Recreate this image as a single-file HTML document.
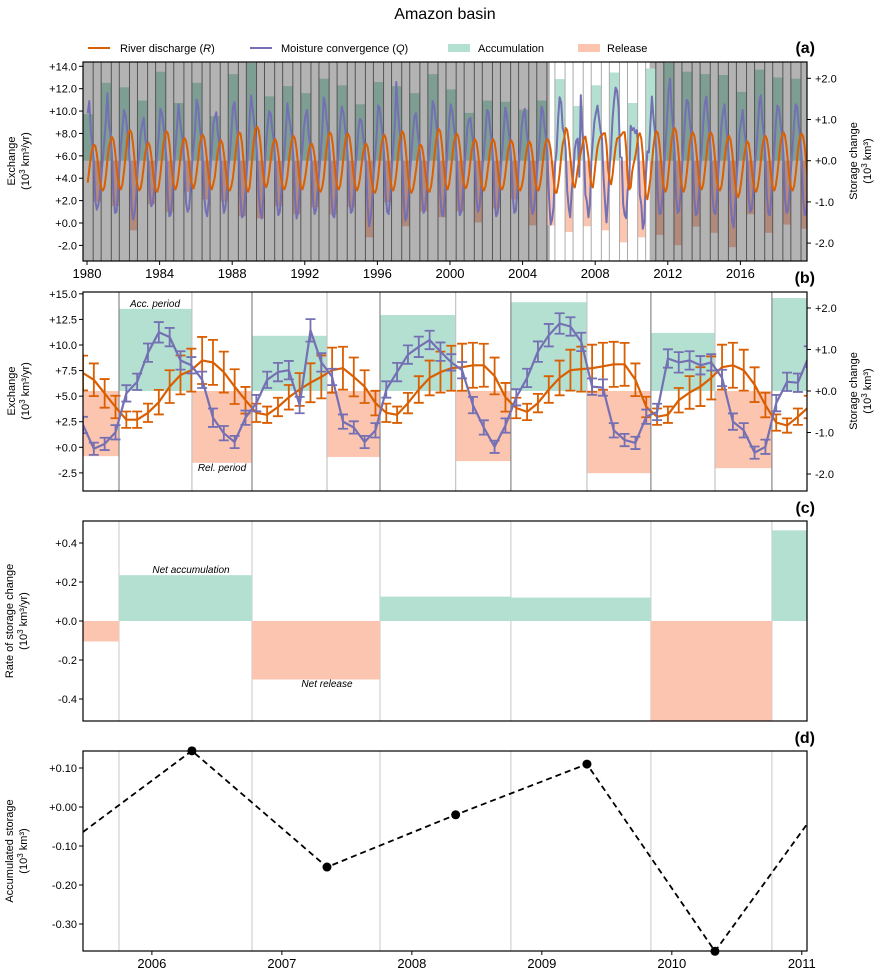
<!DOCTYPE html>
<html><head><meta charset="utf-8"><title>Amazon basin</title>
<style>
body{margin:0;background:#fff;}
svg{display:block;font-family:"Liberation Sans","DejaVu Sans",sans-serif;}
.tk{font-size:11px;fill:#000;}
.xt{font-size:13px;fill:#000;}
.at{font-size:11px;fill:#000;}
.pl{font-size:16px;font-weight:bold;fill:#000;}
.lg{font-size:11px;fill:#000;}
.an{font-size:10px;font-style:italic;fill:#000;}
</style></head>
<body>
<svg id="chart" width="884" height="977" viewBox="0 0 884 977" xmlns="http://www.w3.org/2000/svg">
<defs>
<clipPath id="clipA"><rect x="83" y="62" width="724" height="199"/></clipPath>
<clipPath id="clipB"><rect x="83" y="292" width="724" height="199"/></clipPath>
<clipPath id="clipC"><rect x="83" y="521" width="724" height="200"/></clipPath>
<clipPath id="clipD"><rect x="83" y="751" width="724" height="200"/></clipPath>
</defs>
<text x="445" y="19" text-anchor="middle" font-size="16">Amazon basin</text>
<g id="legend">
 <g><line x1="88" y1="48" x2="110" y2="48" stroke="#d95f02" stroke-width="2"/><text class="lg" x="120" y="52">River discharge (<tspan font-style="italic">R</tspan>)</text></g>
 <g><line x1="250" y1="48" x2="272" y2="48" stroke="#7570b3" stroke-width="2"/><text class="lg" x="281" y="52">Moisture convergence (<tspan font-style="italic">Q</tspan>)</text></g>
 <g><rect x="448" y="44" width="22" height="8" fill="#b3e0d1"/><text class="lg" x="478" y="52">Accumulation</text></g>
 <g><rect x="578" y="44" width="22" height="8" fill="#fcc5b0"/><text class="lg" x="607" y="52">Release</text></g>
</g>
<g id="pa"></g>
<g id="pb"></g>
<g id="pc"></g>
<g id="pd"></g>
</svg>
<script>
// ---------- Panel (a) data ----------
const yearsA = [1980,1981,1982,1983,1984,1985,1986,1987,1988,1989,1990,1991,1992,1993,1994,1995,1996,1997,1998,1999,2000,2001,2002,2003,2004,2005,2006,2007,2008,2009,2010,2011,2012,2013,2014,2015,2016,2017,2018,2019];
const accStorageA = [1.13,1.89,1.78,1.46,2.16,1.40,1.89,1.08,2.10,2.37,1.56,1.81,1.64,1.99,1.83,1.37,1.91,1.81,1.64,2.10,1.73,1.16,1.46,1.43,1.24,1.46,1.98,1.33,1.83,2.14,1.40,2.24,2.37,2.16,2.10,2.08,1.67,2.21,2.02,1.99];
const relStorageA = [-0.99,-1.10,-1.69,-1.06,-1.25,-0.75,-0.94,-0.99,-1.35,-1.40,-1.10,-1.30,-1.13,-1.30,-1.13,-1.86,-1.01,-1.59,-1.23,-1.37,-1.23,-1.50,-1.16,-0.94,-1.57,-1.57,-1.73,-1.59,-1.69,-1.98,-1.86,-1.80,-2.05,-1.60,-1.75,-2.10,-1.30,-1.75,-1.55,-1.65];
const greyBeforeA = 2005.5;
const greyAfterA = 2011.0;
const monthlyR = [
3.6,4.8,5.9,6.6,7.0,6.9,6.2,5.0,3.9,3.1,2.9,3.2,
4.2,5.6,6.8,7.3,7.7,7.4,6.5,5.1,3.9,3.2,3.0,3.5,
4.6,6.0,7.4,8.1,8.3,8.0,7.0,5.6,4.2,3.3,2.9,3.1,
3.9,5.0,6.2,6.9,7.2,6.9,6.0,4.8,3.6,2.9,2.8,3.3,
4.3,5.7,7.0,7.8,8.2,8.0,7.1,5.6,4.3,3.3,3.0,3.4,
4.3,5.5,6.6,7.3,7.6,7.3,6.5,5.3,4.1,3.4,3.1,3.6,
4.5,5.8,7.0,7.6,7.9,7.6,6.7,5.4,4.2,3.3,3.0,3.5,
4.1,5.3,6.4,7.0,7.4,7.1,6.2,5.0,3.8,3.0,2.9,3.3,
4.0,5.3,6.6,7.6,8.1,8.0,7.1,5.6,4.1,3.1,2.8,3.2,
4.6,6.2,7.6,8.4,8.6,8.3,7.3,5.8,4.4,3.5,3.2,3.6,
4.5,5.7,6.8,7.3,7.5,7.1,6.2,5.0,3.9,3.2,3.0,3.4,
4.2,5.5,6.7,7.4,7.8,7.5,6.6,5.3,4.0,3.2,3.0,3.5,
4.3,5.4,6.4,6.9,7.1,6.8,6.0,4.8,3.7,3.0,2.8,3.2,
4.0,5.4,6.8,7.7,8.1,7.9,7.0,5.5,4.1,3.2,3.0,3.4,
4.4,5.8,7.1,7.8,8.0,7.7,6.8,5.4,4.1,3.2,2.9,3.3,
4.0,5.2,6.2,6.8,7.1,6.8,5.9,4.6,3.5,2.8,2.7,3.1,
4.1,5.5,6.8,7.5,7.9,7.6,6.7,5.3,4.0,3.1,2.9,3.4,
4.4,5.8,7.1,7.9,8.2,7.9,6.9,5.4,4.0,3.0,2.7,3.0,
3.7,4.7,5.8,6.6,7.0,6.8,6.0,4.8,3.6,2.9,2.8,3.3,
4.3,5.7,7.0,7.9,8.4,8.2,7.2,5.7,4.3,3.3,3.0,3.5,
4.6,5.9,7.1,7.7,8.0,7.7,6.8,5.4,4.1,3.3,3.1,3.5,
4.3,5.5,6.6,7.2,7.5,7.2,6.3,5.0,3.8,3.1,2.9,3.3,
4.2,5.4,6.5,7.2,7.5,7.2,6.3,5.0,3.8,3.1,3.0,3.4,
4.3,5.5,6.6,7.1,7.4,7.1,6.2,4.9,3.7,3.0,2.9,3.3,
4.0,5.3,6.4,7.0,7.3,7.0,6.1,4.9,3.7,3.0,2.9,3.4,
4.3,5.6,6.7,7.3,7.5,7.26,6.6,5.27,3.94,2.7,2.7,3.37,
4.41,5.93,7.07,7.54,8.49,8.3,7.35,5.93,4.6,3.37,3.18,3.94,
4.89,5.65,6.31,6.88,7.54,7.73,6.88,5.93,4.32,3.37,3.18,4.32,
5.65,6.78,7.35,7.73,7.83,8.02,8.02,6.97,4.89,3.84,3.46,4.32,
5.65,6.78,7.54,7.64,7.73,7.92,8.11,8.11,6.6,3.94,2.99,3.18,
4.6,5.36,5.93,6.78,7.83,8.02,7.54,6.12,4.13,2.42,2.13,2.99,
3.94,5.3,6.8,7.8,8.2,8.0,7.0,5.5,4.1,3.1,2.8,3.2,
4.5,6.0,7.4,8.2,8.5,8.2,7.1,5.6,4.1,3.1,2.8,3.3,
4.4,5.8,7.1,7.8,8.1,7.8,6.9,5.5,4.1,3.2,3.0,3.5,
4.6,6.0,7.3,7.9,8.1,7.8,6.8,5.4,4.0,3.1,2.9,3.3,
4.3,5.6,6.8,7.5,7.8,7.4,6.4,5.0,3.6,2.6,2.3,2.7,
3.6,4.8,6.0,6.8,7.3,7.1,6.2,4.9,3.7,2.9,2.8,3.3,
4.2,5.5,6.8,7.5,7.8,7.5,6.6,5.3,4.0,3.1,2.9,3.4,
4.4,5.8,7.1,7.8,8.1,7.8,6.8,5.4,4.0,3.1,2.9,3.3,
4.3,5.7,7.0,7.7,8.0,7.7,6.8,5.4,4.0,3.2,3.0,3.4];
const monthlyQ = [
9.8,10.9,8.2,7.0,5.5,2.0,1.2,1.6,2.5,4.2,5.8,7.5,
9.2,11.6,9.0,8.0,6.2,2.4,0.9,1.0,2.8,5.0,7.0,8.5,
10.1,9.6,8.4,6.9,5.0,1.3,0.3,0.9,2.2,4.8,6.2,8.0,
8.8,9.4,7.6,6.8,5.6,2.6,1.5,1.8,3.0,4.6,6.4,7.9,
10.2,9.8,8.8,7.4,5.8,2.2,0.6,0.8,2.4,5.1,6.8,8.6,
10.6,9.2,8.1,7.2,5.2,1.8,1.0,1.3,3.1,5.3,6.9,8.4,
11.0,10.4,8.6,7.6,5.9,2.4,1.1,0.6,2.0,4.7,6.6,8.9,
9.4,9.9,8.0,7.1,5.4,2.3,0.9,1.4,2.9,4.9,6.1,8.1,
10.3,10.8,9.2,8.1,6.0,2.1,0.5,0.7,2.3,4.4,6.5,9.2,
11.4,10.2,9.0,7.9,6.1,2.7,1.0,0.4,2.1,4.9,7.2,8.8,
10.0,9.7,8.3,7.4,5.6,2.0,0.7,1.0,2.7,4.8,6.3,8.3,
10.7,9.5,8.7,7.7,5.9,2.2,0.4,0.9,2.5,5.2,6.7,8.6,
9.6,10.1,8.0,7.0,5.3,1.9,0.8,1.2,2.8,4.5,6.2,8.2,
11.2,10.6,9.1,8.0,6.2,2.5,0.7,0.5,2.2,4.6,6.9,9.0,
10.4,9.9,8.6,7.5,5.7,2.1,0.9,1.1,2.6,5.0,6.5,8.4,
9.3,9.1,7.8,6.9,5.1,1.5,-0.3,0.4,2.0,4.3,6.0,7.8,
10.5,10.3,8.9,7.8,6.0,2.4,1.0,0.8,2.4,4.9,6.8,8.7,
12.6,10.1,8.5,7.4,5.4,1.7,0.2,0.6,2.1,4.4,6.1,8.0,
9.5,9.8,8.2,7.2,5.6,2.3,0.9,1.2,2.7,5.1,6.6,8.5,
10.9,10.5,9.3,8.1,6.3,2.6,0.8,0.6,2.3,4.8,7.0,9.1,
10.6,10.0,8.7,7.6,5.8,2.2,0.7,1.0,2.6,4.9,6.7,8.6,
9.2,9.4,8.0,7.1,5.5,2.1,1.0,1.4,3.0,5.0,6.3,8.1,
10.1,9.9,8.4,7.4,5.6,2.0,0.6,0.9,2.5,4.7,6.4,8.3,
10.3,9.7,8.5,7.5,5.7,2.3,0.9,1.1,2.8,5.2,6.8,8.7,
9.7,10.2,8.3,7.3,5.5,1.9,0.8,1.2,2.6,4.6,6.2,8.0,
10.4,10.0,8.6,7.6,5.9,2.18,-0.14,0.33,1.47,5.27,6.4,9.25,
11.24,10.77,8.49,8.02,6.6,2.89,1.38,0.52,2.89,4.32,6.6,7.35,
7.54,4.13,11.43,8.3,6.88,2.51,1.94,0.52,1.66,5.65,7.35,9.06,
9.82,10.49,9.35,8.3,7.54,4.13,1.94,0.05,2.13,4.89,6.78,9.35,
10.96,12.1,11.81,10.3,5.93,5.84,1.66,0.71,0.43,2.99,3.46,8.68,
8.3,8.49,8.02,8.3,6.78,2.51,1.66,-0.52,0.05,4.32,6.4,6.31,
8.87,11.3,9.5,8.2,6.2,2.3,0.8,0.9,2.4,5.0,6.9,9.2,
11.8,12.9,10.2,8.6,6.4,2.4,0.9,1.1,2.6,5.2,7.1,9.5,
11.0,10.8,9.2,8.0,6.1,2.2,0.7,0.9,2.5,5.0,6.8,9.0,
10.7,11.3,9.4,8.1,6.2,2.5,1.0,0.8,2.3,4.8,6.6,8.8,
9.9,10.6,8.8,7.5,5.6,1.8,0.2,-0.4,1.6,4.1,5.9,8.2,
9.0,10.1,8.3,7.3,5.7,2.3,1.0,1.2,2.7,5.1,6.6,8.5,
10.8,11.4,9.2,8.0,6.1,2.4,0.8,0.7,2.5,4.9,6.8,9.0,
10.5,10.2,9.0,7.9,6.0,2.2,0.9,1.1,2.6,5.0,6.7,8.9,
10.6,10.4,8.9,7.7,5.9,2.1,0.7,0.9,2.4,4.8,6.6,8.7];
const xTicksA = [1980,1984,1988,1992,1996,2000,2004,2008,2012,2016];
const yTicksA = [14,12,10,8,6,4,2,0,-2];
const yTicksStorage = [2,1,0,-1,-2];

// ---------- Panel (b) data ----------
const periodStart = [2005.47,2005.747,2006.308,2006.77,2007.347,2007.755,2008.337,2008.762,2009.347,2009.839,2010.332,2010.77];
const periodEnd   = [2005.747,2006.308,2006.77,2007.347,2007.755,2008.337,2008.762,2009.347,2009.839,2010.332,2010.77,2011.04];
const periodStorage = [-1.57,1.98,-1.73,1.33,-1.59,1.83,-1.69,2.14,-1.98,1.40,-1.86,2.24];
const monthStartB = 2005.47;
const valuesR = [7.26,6.6,5.27,3.94,2.7,2.7,3.37,4.41,5.93,7.07,7.54,8.49,8.3,7.35,5.93,4.6,3.37,3.18,3.94,4.89,5.65,6.31,6.88,7.54,7.73,6.88,5.93,4.32,3.37,3.18,4.32,5.65,6.78,7.35,7.73,7.83,8.02,8.02,6.97,4.89,3.84,3.46,4.32,5.65,6.78,7.54,7.64,7.73,7.92,8.11,8.11,6.6,3.94,2.99,3.18,4.6,5.36,5.93,6.78,7.83,8.02,7.54,6.12,4.13,2.42,2.13,2.99,3.94];
const valuesQ = [2.18,-0.14,0.33,1.47,5.27,6.4,9.25,11.24,10.77,8.49,8.02,6.6,2.89,1.38,0.52,2.89,4.32,6.6,7.35,7.54,4.13,11.43,8.3,6.88,2.51,1.94,0.52,1.66,5.65,7.35,9.06,9.82,10.49,9.35,8.3,7.54,4.13,1.94,0.05,2.13,4.89,6.78,9.35,10.96,12.1,11.81,10.3,5.93,5.84,1.66,0.71,0.43,2.99,3.46,8.68,8.3,8.49,8.02,8.3,6.78,2.51,1.66,-0.52,0.05,4.32,6.4,6.31,8.87];
const errR = [1.7,1.6,1.4,1.1,0.8,0.8,0.9,1.2,1.6,1.9,2.1,2.3,2.2,2.0,1.7,1.3,0.9,0.8,0.9,1.2,1.6,1.9,2.1,2.2,2.1,1.9,1.6,1.2,0.9,0.8,1.0,1.3,1.7,2.0,2.2,2.3,2.2,2.1,1.8,1.4,1.0,0.8,0.9,1.3,1.7,2.0,2.2,2.3,2.3,2.2,2.1,1.6,1.0,0.8,0.8,1.2,1.6,1.9,2.1,2.2,2.2,2.0,1.7,1.2,0.8,0.7,0.8,1.1];
const errQ = [0.8,0.6,0.6,0.7,0.8,0.8,0.9,1.0,0.9,0.9,0.8,0.8,0.9,0.7,0.6,0.7,0.8,0.8,0.9,0.9,0.8,1.1,0.9,0.8,0.7,0.6,0.6,0.7,0.8,0.9,0.9,1.0,0.9,0.9,0.8,0.8,0.8,0.7,0.6,0.7,0.8,0.9,1.0,1.1,1.0,0.9,0.9,0.8,0.8,0.7,0.6,0.6,0.7,0.8,0.9,1.0,0.9,0.9,0.8,0.8,0.8,0.7,0.6,0.7,0.8,0.9,0.9,1.0];
const yTicksB = [15,12.5,10,7.5,5,2.5,0,-2.5];

// ---------- Panel (c) data ----------
const cycleStart = [2005.47,2005.747,2006.77,2007.755,2008.762,2009.839,2010.77];
const cycleEnd   = [2005.747,2006.77,2007.755,2008.762,2009.839,2010.77,2011.04];
const cycleRate  = [-0.105,0.235,-0.30,0.125,0.12,-0.52,0.465];
const yTicksC = [0.4,0.2,0,-0.2,-0.4];

// ---------- Panel (d) data ----------
const accTimes  = [2005.47,2006.308,2007.347,2008.337,2009.347,2010.332,2011.04];
const accValues = [-0.064,0.144,-0.154,-0.02,0.11,-0.37,-0.044];
const accMarked = [false,true,true,true,true,true,false];
const xTicksD = [2006,2007,2008,2009,2010,2011];
const yTicksD = [0.1,0,-0.1,-0.2,-0.3];

// ---------- helpers ----------
const NS = "http://www.w3.org/2000/svg";
function mk(parent, tag, attrs, txt){
  const e = document.createElementNS(NS, tag);
  for (const k in attrs) e.setAttribute(k, attrs[k]);
  if (txt !== undefined) e.textContent = txt;
  parent.appendChild(e);
  return e;
}
function lin(d0,d1,r0,r1){ return v => r0 + (v-d0)*(r1-r0)/(d1-d0); }
function fmt(v,dec){ const s=Math.abs(v).toFixed(dec); return (v<0?'-':'+')+s; }
const L=83, R=807;

function frame(g, top, bot){
  const f = mk(g,'rect',{x:L,y:top,width:R-L,height:bot-top,fill:'none',stroke:'#000','stroke-width':1.2});
  
  
}
function leftTicks(g, ticks, sc, dec, name){
  const ax = mk(g,'g',{});
  
  
  ticks.forEach(v=>{
    const y=sc(v);
    mk(ax,'line',{x1:L-4,x2:L,y1:y,y2:y,stroke:'#000'});
    const t=mk(ax,'text',{x:L-6,y:y+4,'text-anchor':'end',class:'tk'},fmt(v,dec));
    
    
  });
}
function rightTicks(g, ticks, sc, dec, name){
  const ax = mk(g,'g',{});
  
  
  ticks.forEach(v=>{
    const y=sc(v);
    mk(ax,'line',{x1:R,x2:R+4,y1:y,y2:y,stroke:'#000'});
    const t=mk(ax,'text',{x:R+8,y:y+4,class:'tk'},fmt(v,dec));
    
    
  });
}
function vTitle(g, x, cy, line1, line2, name){
  const t = mk(g,'text',{x:0,y:0,transform:`translate(${x},${cy}) rotate(-90)`,'text-anchor':'middle',class:'at'});
  
  
  mk(t,'tspan',{x:0,dy:0},line1);
  const t2 = mk(t,'tspan',{x:0,dy:14},'(10');
  mk(t,'tspan',{dy:-4,'font-size':8},'3');
  mk(t,'tspan',{dy:4},line2);
}
function panelLabel(g, y, s){
  const t=mk(g,'text',{x:815,y:y,'text-anchor':'end',class:'pl'},s);
  
  
}

// ---------- Panel (a) ----------
(function(){
  const g = document.getElementById('pa');
  const xA = lin(1979.78,2019.67,L,R);
  const yA = lin(0,14,223,66.3);
  const ySA = lin(0,2,160.7,78.3);
  const top=62, bot=261;
  const c = mk(g,'g',{'clip-path':'url(#clipA)'});
  // grey overlay regions
  const g1 = mk(c,'rect',{x:L,y:top,width:xA(greyBeforeA)-L,height:bot-top,fill:'#b3b3b3'});
  
  
  const g2 = mk(c,'rect',{x:xA(greyAfterA),y:top,width:R-xA(greyAfterA),height:bot-top,fill:'#b3b3b3'});
  
  
  const inGrey = t => t < greyBeforeA || t > greyAfterA;
  yearsA.forEach((yr,i)=>{
    const a0=yr-0.22, a1=yr+0.34, r1=yr+0.78;
    const acc = mk(c,'rect',{x:xA(a0),y:ySA(accStorageA[i]),width:xA(a1)-xA(a0),height:ySA(0)-ySA(accStorageA[i]),fill:inGrey(yr)?'#7e9d93':'#b3e0d1'});
    
    
    const rel = mk(c,'rect',{x:xA(a1),y:ySA(0),width:xA(r1)-xA(a1),height:ySA(relStorageA[i])-ySA(0),fill:inGrey(yr+0.5)?'#b18a7c':'#fcc5b0'});
    
    
    [a0,a1].forEach(t=>{
      const gl = mk(c,'line',{x1:xA(t),x2:xA(t),y1:top,y2:bot,stroke:inGrey(t)?'#555':'#aaa','stroke-width':1});
      
      
    });
  });
  const ptsR=[], ptsQ=[];
  monthlyR.forEach((v,k)=>{ const t=1980+(k+0.5)/12; ptsR.push(xA(t).toFixed(1)+','+yA(v).toFixed(1)); });
  monthlyQ.forEach((v,k)=>{ const t=1980+(k+0.5)/12; ptsQ.push(xA(t).toFixed(1)+','+yA(v).toFixed(1)); });
  const lq = mk(c,'polyline',{points:ptsQ.join(' '),fill:'none',stroke:'#7570b3','stroke-width':2,'stroke-linejoin':'round'});
  
  
  const lr = mk(c,'polyline',{points:ptsR.join(' '),fill:'none',stroke:'#d95f02','stroke-width':2,'stroke-linejoin':'round'});
  
  
  frame(g,top,bot);
  leftTicks(g,yTicksA,yA,1,'left-y-axis-a');
  rightTicks(g,yTicksStorage,ySA,1,'right-y-axis-a');
  const xa = mk(g,'g',{});
  
  
  xTicksA.forEach(v=>{
    const x=xA(v);
    mk(xa,'line',{x1:x,x2:x,y1:bot,y2:bot+4,stroke:'#000'});
    const t=mk(xa,'text',{x:x,y:bot+17,'text-anchor':'middle',class:'xt'},String(v));
    
    
  });
  vTitle(g,15,161,'Exchange',' km³/yr)','y-axis-title-a');
  vTitle(g,857,161,'Storage change',' km³)','right-axis-title-a');
  panelLabel(g,53,'(a)');
})();

// ---------- Panel (b) ----------
(function(){
  const g = document.getElementById('pb');
  const xB = lin(2005.47,2011.04,L,R);
  const yB = lin(0,15,447.3,293.85);
  const ySB = lin(0,2,391,308);
  const top=292, bot=491;
  const c = mk(g,'g',{'clip-path':'url(#clipB)'});
  periodStart.forEach((s,i)=>{
    const v=periodStorage[i], acc=v>0;
    const r = mk(c,'rect',{x:xB(s),y:acc?ySB(v):ySB(0),width:xB(periodEnd[i])-xB(s),height:Math.abs(ySB(v)-ySB(0)),fill:acc?'#b3e0d1':'#fcc5b0'});
    
    
    if(i>0){
      const gl=mk(c,'line',{x1:xB(s),x2:xB(s),y1:top,y2:bot,stroke:acc?'#888':'#c4c4c4','stroke-width':1.2});
      
      
    }
  });
  function series(vals, errs, color, name){
    const sg = mk(c,'g',{});
    
    
    const pts=[];
    vals.forEach((v,i)=>{
      const x=xB(monthStartB+i/12), y=yB(v);
      pts.push(x.toFixed(1)+','+y.toFixed(1));
      const e=errs[i], y0=yB(v-e), y1=yB(v+e);
      const eb = mk(sg,'path',{d:`M${x},${y0}V${y1}M${x-5},${y0}H${x+5}M${x-5},${y1}H${x+5}`,stroke:color,'stroke-width':1.8,fill:'none'});
      
      
    });
    const ln = mk(sg,'polyline',{points:pts.join(' '),fill:'none',stroke:color,'stroke-width':2.2,'stroke-linejoin':'round'});
    
    
  }
  series(valuesR, errR, '#d95f02', 'river-discharge-monthly');
  series(valuesQ, errQ, '#7570b3', 'moisture-convergence-monthly');
  const a1 = mk(g,'text',{x:155,y:307,'text-anchor':'middle',class:'an'},'Acc. period');
  
  
  const a2 = mk(g,'text',{x:222,y:471,'text-anchor':'middle',class:'an'},'Rel. period');
  
  
  frame(g,top,bot);
  leftTicks(g,yTicksB,yB,1,'left-y-axis-b');
  rightTicks(g,yTicksStorage,ySB,1,'right-y-axis-b');
  vTitle(g,15,391,'Exchange',' km³/yr)','y-axis-title-b');
  vTitle(g,857,391,'Storage change',' km³)','right-axis-title-b');
  panelLabel(g,283,'(b)');
})();

// ---------- Panel (c) ----------
(function(){
  const g = document.getElementById('pc');
  const xC = lin(2005.47,2011.04,L,R);
  const yC = lin(0,0.4,621,543);
  const top=521, bot=721;
  const c = mk(g,'g',{'clip-path':'url(#clipC)'});
  cycleStart.forEach((s,i)=>{
    if(i>0){
      const gl=mk(c,'line',{x1:xC(s),x2:xC(s),y1:top,y2:bot,stroke:'#c8c8c8','stroke-width':1});
      
      
    }
  });
  cycleStart.forEach((s,i)=>{
    const v=cycleRate[i];
    const r = mk(c,'rect',{x:xC(s),y:v>0?yC(v):yC(0),width:xC(cycleEnd[i])-xC(s),height:Math.abs(yC(v)-yC(0)),fill:v>0?'#b3e0d1':'#fcc5b0'});
    
    
  });
  const a1 = mk(g,'text',{x:191,y:573,'text-anchor':'middle',class:'an'},'Net accumulation');
  
  
  const a2 = mk(g,'text',{x:327,y:687,'text-anchor':'middle',class:'an'},'Net release');
  
  
  frame(g,top,bot);
  leftTicks(g,yTicksC,yC,1,'y-axis-c');
  vTitle(g,13,621,'Rate of storage change',' km³/yr)','y-axis-title-c');
  panelLabel(g,513,'(c)');
})();

// ---------- Panel (d) ----------
(function(){
  const g = document.getElementById('pd');
  const xD = lin(2005.47,2011.04,L,R);
  const yD = lin(0,0.1,807,768);
  const top=751, bot=951;
  const c = mk(g,'g',{'clip-path':'url(#clipD)'});
  cycleStart.forEach((s,i)=>{
    if(i>0){
      const gl=mk(c,'line',{x1:xD(s),x2:xD(s),y1:top,y2:bot,stroke:'#c8c8c8','stroke-width':1});
      
      
    }
  });
  const pts = accTimes.map((t,i)=>xD(t).toFixed(1)+','+yD(accValues[i]).toFixed(1));
  const ln = mk(c,'polyline',{points:pts.join(' '),fill:'none',stroke:'#000','stroke-width':1.8,'stroke-dasharray':'6,4'});
  
  
  accTimes.forEach((t,i)=>{
    if(!accMarked[i]) return;
    const p = mk(g,'circle',{cx:xD(t),cy:yD(accValues[i]),r:4.5,fill:'#000'});
    
    
  });
  frame(g,top,bot);
  leftTicks(g,yTicksD,yD,2,'y-axis-d');
  const xa = mk(g,'g',{});
  
  
  xTicksD.forEach(v=>{
    const x=xD(v);
    mk(xa,'line',{x1:x,x2:x,y1:bot,y2:bot+4,stroke:'#000'});
    const t=mk(xa,'text',{x:x,y:bot+17,'text-anchor':'middle',class:'xt'},String(v));
    
    
  });
  vTitle(g,13,851,'Accumulated storage',' km³)','y-axis-title-d');
  panelLabel(g,743,'(d)');
})();
</script>
</body></html>
